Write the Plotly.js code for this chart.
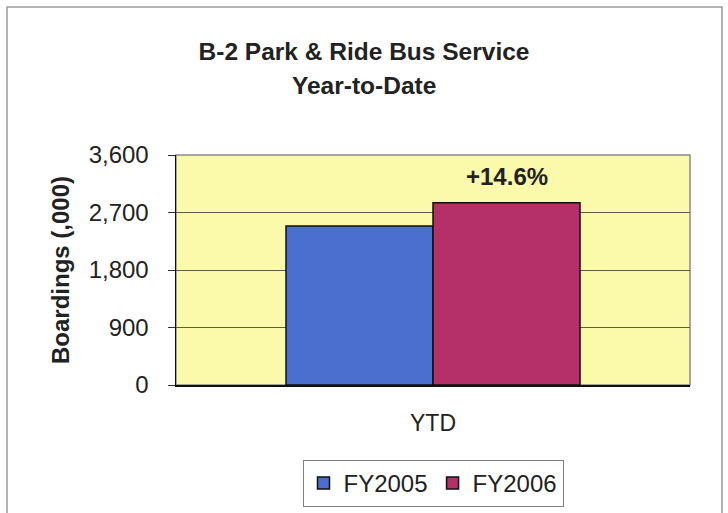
<!DOCTYPE html>
<html>
<head>
<meta charset="utf-8">
<script src="https://cdn.plot.ly/plotly-3.0.1.min.js"></script>
<style>
  html, body { margin: 0; padding: 0; background: #ffffff; }
  #chart { width: 728px; height: 513px; }
</style>
</head>
<body>
<div id="chart"></div>
<script>
// ---- data ----
const categories = ['YTD'];
const seriesNames = ['FY2005', 'FY2006'];
const fy2005 = [2490];
const fy2006 = [2853];
const changeLabel = '+14.6%';
const yTickVals = [0, 900, 1800, 2700, 3600];
const titleLine1 = 'B-2 Park & Ride Bus Service';
const titleLine2 = 'Year-to-Date';
const yTitle = 'Boardings (,000)';

const FONT = 'Liberation Sans, Arial, Helvetica, sans-serif';

const traces = [
  {
    type: 'bar', name: seriesNames[0], x: categories, y: fy2005,
    marker: { color: '#4a6fcf', line: { color: '#111111', width: 1.5 } },
    hoverinfo: 'skip'
  },
  {
    type: 'bar', name: seriesNames[1], x: categories, y: fy2006,
    marker: { color: '#b52f69', line: { color: '#111111', width: 1.5 } },
    hoverinfo: 'skip'
  }
];

const W = 728, H = 513;
const mL = 176, mR = 38, mT = 155, mB = 128;
const plotW = W - mL - mR, plotH = H - mT - mB;
// paper coords for figure positions
const px = (x) => (x - mL) / plotW;
const py = (y) => (H - mB - y) / plotH;

const layout = {
  width: W, height: H,
  margin: { l: mL, r: mR, t: mT, b: mB, pad: 0 },
  paper_bgcolor: '#ffffff',
  plot_bgcolor: '#fbf9aa',
  font: { family: FONT, size: 24, color: '#222222' },
  barmode: 'group',
  bargap: 0.428,
  bargroupgap: 0,
  title: {
    text: '<b>' + titleLine1 + '</b>',
    font: { family: FONT, size: 24.5, color: '#222222' },
    xref: 'container', x: 0.5, xanchor: 'center',
    yref: 'container', y: 1 - 51 / H, yanchor: 'middle'
  },
  xaxis: {
    type: 'category',
    showline: true, linecolor: '#111111', linewidth: 1.5,
    ticks: '', showgrid: false, zeroline: false,
    tickfont: { family: FONT, size: 23, color: '#222222' },
    ticklabelstandoff: 17,
    automargin: false, fixedrange: true
  },
  yaxis: {
    range: [0, 3600],
    tickvals: yTickVals,
    tickformat: ',d',
    showline: true, linecolor: '#111111', linewidth: 1.5,
    ticks: 'outside', ticklen: 7, tickcolor: '#333333', tickwidth: 1,
    showgrid: true, gridcolor: '#5e5e3c', gridwidth: 1,
    zeroline: false,
    tickfont: { family: FONT, size: 24, color: '#222222' },
    ticklabelstandoff: 14,
    title: { text: '<b>' + yTitle + '</b>', font: { family: FONT, size: 24, color: '#222222' }, standoff: 12 },
    automargin: false, fixedrange: true
  },
  showlegend: true,
  legend: {
    orientation: 'h',
    xref: 'container', x: 433 / W, xanchor: 'center',
    yref: 'container', y: 1 - 460 / H, yanchor: 'top',
    bordercolor: '#808080', borderwidth: 1, bgcolor: '#ffffff',
    font: { family: FONT, size: 24, color: '#222222' },
    itemwidth: 30, traceorder: 'normal'
  },
  annotations: [
    {
      xref: 'paper', yref: 'paper', x: px(364), y: py(86),
      xanchor: 'center', yanchor: 'middle',
      text: '<b>' + titleLine2 + '</b>', showarrow: false,
      font: { family: FONT, size: 24.5, color: '#222222' }
    },
    {
      xref: 'x', yref: 'y', x: 0.143, y: fy2006[0],
      xanchor: 'center', yanchor: 'bottom', yshift: 11,
      text: '<b>' + changeLabel + '</b>', showarrow: false,
      font: { family: FONT, size: 24, color: '#222222' }
    }
  ],
  shapes: [
    // plot area border (gray)
    { type: 'rect', xref: 'paper', yref: 'paper', x0: 0, x1: 1, y0: 0, y1: 1,
      line: { color: '#8a8a8a', width: 1.5 }, layer: 'below' },
    // outer chart frame
    { type: 'rect', xref: 'paper', yref: 'paper',
      x0: px(7), x1: px(722), y0: py(530), y1: py(7),
      line: { color: '#9a9a9a', width: 1.5 }, layer: 'below' }
  ]
};

Plotly.newPlot('chart', traces, layout, { staticPlot: true, displayModeBar: false });
</script>
</body>
</html>
